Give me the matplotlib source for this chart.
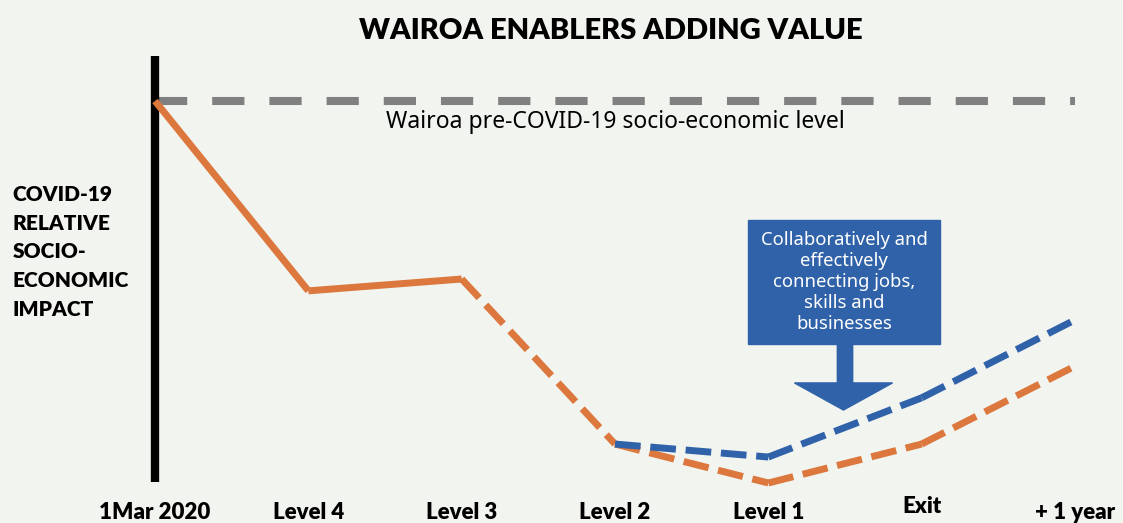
import matplotlib.pyplot as plt
from matplotlib.patches import Rectangle, Polygon

# data
stages = ['1Mar 2020', 'Level 4', 'Level 3', 'Level 2', 'Level 1', 'Exit', '+ 1 year']
baseline = 100
impact_now = [100, 50.3, 53.4, 10.2, 0, 10.2, 30.6]        # orange
impact_enablers = [None, None, None, 10.2, 6.8, 22.3, 42.7]  # blue
solid_upto = 2  # orange is solid up to Level 3, dashed after

orange = '#DC773D'
blue = '#3062A9'
grey = '#808080'
bg = '#F2F4EF'

plt.rcParams['font.family'] = ['Lato', 'DejaVu Sans']

fig = plt.figure(figsize=(11.23, 5.23), dpi=100, facecolor=bg)
ax = fig.add_axes([0, 0, 1, 1])
ax.set_facecolor(bg)
ax.set_xlim(-1.011, 6.313)
ax.set_ylim(-10.47, 126.44)
ax.axis('off')

x = list(range(len(stages)))

# pre-covid level
ax.plot([x[0], x[-1]], [baseline, baseline], color=grey, lw=5.8,
        dashes=(4, 3.1), solid_capstyle='butt', dash_capstyle='butt')
ax.text(3, 94.5, 'Wairoa pre-COVID-19 socio-economic level', ha='center', va='center',
        fontsize=16.5, family=['Noto Sans', 'DejaVu Sans'])

# vertical axis line
ax.plot([0, 0], [0.3, 111.8], color='black', lw=6, solid_capstyle='butt')

# orange: each segment drawn on its own so the dash pattern restarts
for i in range(len(x) - 1):
    kw = dict(color=orange, lw=5, solid_capstyle='butt', dash_capstyle='butt')
    if i >= solid_upto:
        kw['dashes'] = (3.7, 1.4)
    ax.plot(x[i:i + 2], impact_now[i:i + 2], **kw)

for i in range(len(x) - 1):
    if impact_enablers[i] is None:
        continue
    ax.plot(x[i:i + 2], impact_enablers[i:i + 2], color=blue, lw=5,
            dashes=(3.7, 1.4), dash_capstyle='butt')

# callout box and arrow
ax.add_patch(Rectangle((3.87, 36.4), 1.25, 32.5, color=blue, zorder=4))
ax.add_patch(Polygon([(4.45, 36.4), (4.55, 36.4), (4.55, 26.2), (4.81, 26.2),
                      (4.49, 19.1), (4.17, 26.2), (4.45, 26.2)],
                     closed=True, color=blue, zorder=4))
ax.text(4.495, 52.6, 'Collaboratively and\neffectively\nconnecting jobs,\nskills and\nbusinesses',
        ha='center', va='center', color='white', fontsize=13.3, linespacing=1.2,
        family=['Noto Sans', 'DejaVu Sans'], zorder=5)

# stage labels
for xi, lab in zip(x, stages):
    yy = -7.6 if lab != 'Exit' else -6.2
    ax.text(xi, yy, lab, ha='center', va='center', fontsize=16, fontweight='heavy')

ax.text(-0.93, 60.5, 'COVID-19\nRELATIVE\nSOCIO-\nECONOMIC\nIMPACT', ha='left', va='center',
        fontsize=15, fontweight='heavy', linespacing=1.6)

fig.text(0.544, 0.94, 'WAIROA ENABLERS ADDING VALUE', ha='center', va='center',
         fontsize=21, fontweight='heavy')

fig.savefig('out.png', dpi=100, facecolor=bg)
